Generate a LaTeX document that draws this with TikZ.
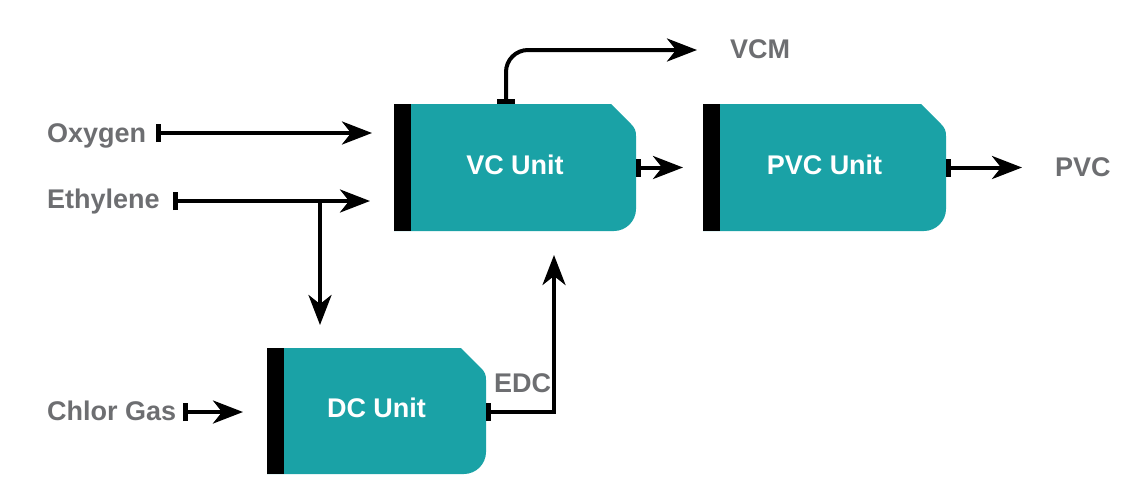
\documentclass[tikz,border=0pt]{standalone}
\usepackage{fontspec}
\setmainfont{Liberation Sans}
\usetikzlibrary{arrows.meta}
\definecolor{unitfill}{HTML}{1AA2A6}
\definecolor{labelgray}{HTML}{6D6E71}
\tikzset{
  unitbox/.style={minimum width=#1, minimum height=127pt, inner sep=0pt, outer sep=0pt,
    anchor=north west, text=white, font=\bfseries\fontsize{27}{27}\selectfont,
    text height=19pt, text depth=6pt,
    path picture={
      \fill[unitfill] (path picture bounding box.north west)
        -- ([xshift=-25pt]path picture bounding box.north east)
        -- ([xshift=-5pt,yshift=-20pt]path picture bounding box.north east)
        .. controls ([xshift=-1pt,yshift=-24pt]path picture bounding box.north east)
        and ([yshift=-27pt]path picture bounding box.north east)
        .. ([yshift=-32pt]path picture bounding box.north east)
        -- ([yshift=22pt]path picture bounding box.south east)
        .. controls ([yshift=10pt]path picture bounding box.south east)
        and ([xshift=-10pt]path picture bounding box.south east)
        .. ([xshift=-22pt]path picture bounding box.south east)
        -- (path picture bounding box.south west) -- cycle;
      \fill[black] (path picture bounding box.north west)
        rectangle ([xshift=17pt]path picture bounding box.south west);
    }},
  lbl/.style={text=labelgray, font=\bfseries\fontsize{27}{27}\selectfont,
    text height=19pt, text depth=0pt, inner sep=0pt},
  flow/.style={line width=4pt,
    {Bar[width=18pt,line width=5pt]}-{Stealth[length=30pt,width=23pt,inset=9pt]}},
  plain/.style={line width=4pt, -{Stealth[length=30pt,width=23pt,inset=9pt]}}
}
\begin{document}
\begin{tikzpicture}[x=1pt,y=-1pt]
\useasboundingbox (0,0) rectangle (1145,499);
% units
\node[unitbox=242pt] (vc) at (394,104) {VC Unit};
\node[unitbox=243pt] (pvc) at (703,104) {PVC Unit};
\node[unitbox=219pt, minimum height=126pt] (dc) at (267,348) {DC Unit};
% labels
\node[lbl, anchor=west] (oxy) at (47,133) {Oxygen};
\node[lbl, anchor=west] (eth) at (47,199) {Ethylene};
\node[lbl, anchor=west] (chl) at (47,411) {Chlor Gas};
\node[lbl] (vcm) at (760,49) {VCM};
\node[lbl, anchor=west] (pvcl) at (1055,167) {PVC};
\node[lbl, anchor=west] (edc) at (494,383) {EDC};
% coordinates
\coordinate (oxys) at (156,133);
\coordinate (oxye) at (372,133);
\coordinate (eths) at (173,201);
\coordinate (ethe) at (370,201);
\coordinate (br) at (320,201);
\coordinate (bre) at (320,325);
\coordinate (chls) at (183,412);
\coordinate (chle) at (243,412);
\coordinate (edce) at (554,255);
\coordinate (vcme) at (697,50);
\coordinate (pvcin) at (683,167.5);
\coordinate (pvce) at (1022,167.5);
% connectors
\draw[flow] (oxys) -- (oxye);
\draw[flow] (eths) -- (ethe);
\draw[plain] (br) -- (bre);
\draw[flow] (chls) -- (chle);
\draw[flow] ([yshift=-1pt]dc.east) -| (edce);
\draw[flow, rounded corners=22pt] ([xshift=-9pt]vc.north) |- (vcme);
\draw[flow] (vc.east) -- (pvcin);
\draw[flow] (pvc.east) -- (pvce);
\end{tikzpicture}
\end{document}
